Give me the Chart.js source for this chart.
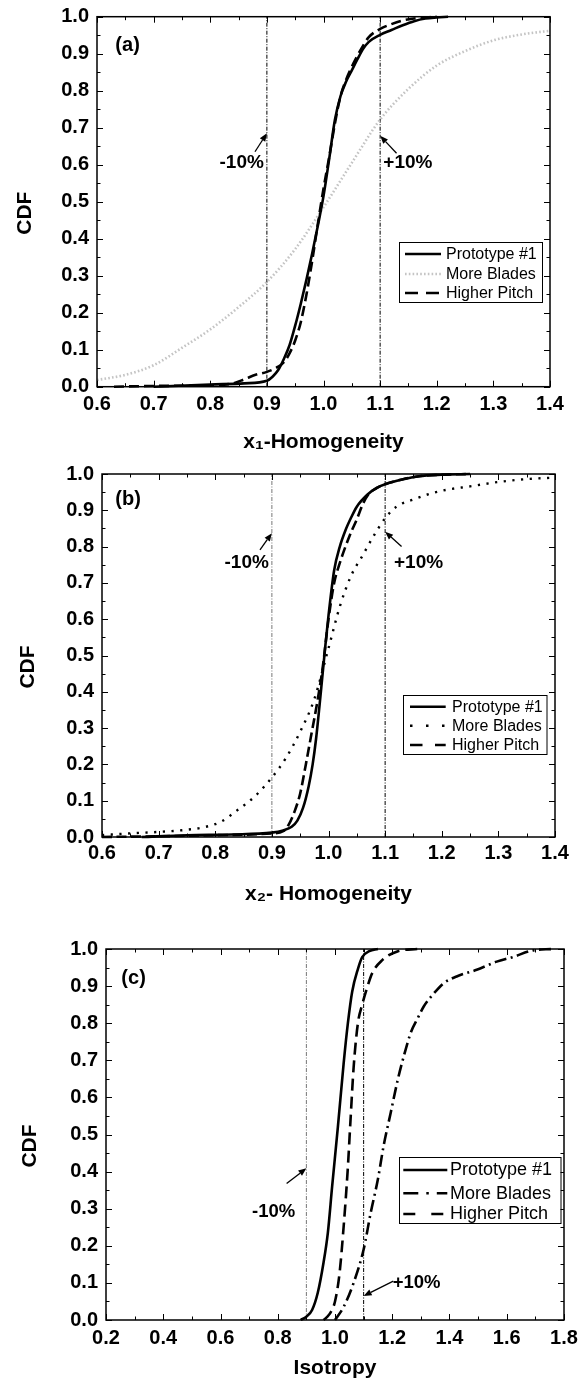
<!DOCTYPE html>
<html><head><meta charset="utf-8">
<script src="https://cdn.jsdelivr.net/npm/chart.js@4.4.1/dist/chart.umd.min.js"></script>
<style>
html,body{margin:0;padding:0;background:#fff;}
#wrap{position:relative;width:579px;height:1389px;overflow:hidden;}
.p{position:absolute;left:0;width:579px;}
canvas{display:block;}
</style></head><body>
<div id="wrap">
<div class="p" style="top:0;height:462px"><canvas id="ca" width="579" height="462"></canvas></div>
<div class="p" style="top:462px;height:462px"><canvas id="cb" width="579" height="462"></canvas></div>
<div class="p" style="top:924px;height:465px"><canvas id="cc" width="579" height="465"></canvas></div>
</div>
<script>
const FONT = '"Liberation Sans", Arial, Helvetica, sans-serif';

// ---------- ticks / labels ----------
const xTicksAB = [0.6, 0.7, 0.8, 0.9, 1.0, 1.1, 1.2, 1.3, 1.4];
const xTicksC  = [0.2, 0.4, 0.6, 0.8, 1.0, 1.2, 1.4, 1.6, 1.8];
const yTicks   = [0, 0.1, 0.2, 0.3, 0.4, 0.5, 0.6, 0.7, 0.8, 0.9, 1.0];
const refLinesX = [0.9, 1.1];
const seriesNames = ['Prototype #1', 'More Blades', 'Higher Pitch'];
const xTitles = ['x\u2081-Homogeneity', 'x\u2082- Homogeneity', 'Isotropy'];
const yTitle = 'CDF';

// ---------- panel (a) ----------
const aProtoX = [0.70, 0.80, 0.86, 0.90, 0.91, 0.92, 0.93, 0.94, 0.95, 0.96, 0.97, 0.98, 0.99, 1.00, 1.01, 1.02, 1.03, 1.04, 1.05, 1.06, 1.07, 1.08, 1.10, 1.12, 1.14, 1.16, 1.18, 1.20, 1.22];
const aProtoY = [0.0, 0.006, 0.009, 0.016, 0.027, 0.045, 0.075, 0.112, 0.165, 0.225, 0.29, 0.36, 0.435, 0.515, 0.615, 0.72, 0.785, 0.825, 0.855, 0.885, 0.913, 0.932, 0.951, 0.964, 0.977, 0.988, 0.995, 0.998, 1.0];
const aBladesX = [0.60, 0.65, 0.70, 0.75, 0.80, 0.85, 0.90, 0.95, 1.00, 1.05, 1.10, 1.15, 1.20, 1.25, 1.30, 1.35, 1.40];
const aBladesY = [0.018, 0.032, 0.058, 0.105, 0.155, 0.215, 0.283, 0.372, 0.485, 0.605, 0.722, 0.805, 0.868, 0.907, 0.936, 0.952, 0.962];
const aPitchX = [0.63, 0.70, 0.80, 0.84, 0.86, 0.88, 0.90, 0.92, 0.93, 0.94, 0.95, 0.96, 0.97, 0.98, 0.99, 1.00, 1.01, 1.02, 1.03, 1.04, 1.05, 1.06, 1.07, 1.08, 1.10, 1.12, 1.14, 1.16, 1.20];
const aPitchY = [0.0, 0.002, 0.004, 0.009, 0.02, 0.032, 0.04, 0.054, 0.066, 0.09, 0.125, 0.175, 0.25, 0.34, 0.44, 0.535, 0.62, 0.71, 0.785, 0.83, 0.865, 0.895, 0.922, 0.945, 0.967, 0.98, 0.99, 0.995, 1.0];
const aNotes = [
  {text: '(a)', x: 0.654, y: 0.923, size: 20},
  {text: '-10%', x: 0.8555, y: 0.604, size: 19},
  {text: '+10%', x: 1.149, y: 0.604, size: 19}
];
const aArrows = [
  {x1: 0.879, y1: 0.635, x2: 0.9, y2: 0.685},
  {x1: 1.129, y1: 0.631, x2: 1.1, y2: 0.678}
];

// ---------- panel (b) ----------
const bProtoX = [0.67, 0.75, 0.83, 0.90, 0.92, 0.935, 0.945, 0.955, 0.965, 0.972, 0.978, 0.984, 0.989, 0.994, 1.00, 1.01, 1.02, 1.03, 1.04, 1.05, 1.07, 1.085, 1.10, 1.13, 1.16, 1.20, 1.25];
const bProtoY = [0.0, 0.005, 0.007, 0.012, 0.018, 0.028, 0.045, 0.08, 0.14, 0.20, 0.27, 0.36, 0.44, 0.52, 0.61, 0.735, 0.80, 0.845, 0.88, 0.91, 0.945, 0.962, 0.972, 0.985, 0.994, 0.998, 1.0];
const bBladesX = [0.60, 0.65, 0.70, 0.75, 0.78, 0.81, 0.84, 0.87, 0.90, 0.925, 0.95, 0.975, 1.00, 1.02, 1.04, 1.06, 1.08, 1.10, 1.12, 1.15, 1.18, 1.21, 1.25, 1.30, 1.35, 1.40];
const bBladesY = [0.005, 0.01, 0.014, 0.02, 0.027, 0.042, 0.075, 0.112, 0.164, 0.218, 0.29, 0.38, 0.52, 0.635, 0.72, 0.775, 0.83, 0.878, 0.91, 0.93, 0.946, 0.957, 0.966, 0.978, 0.986, 0.99];
const bPitchX = [0.60, 0.70, 0.80, 0.90, 0.92, 0.93, 0.94, 0.95, 0.96, 0.97, 0.98, 0.99, 1.00, 1.01, 1.02, 1.03, 1.04, 1.05, 1.06, 1.07, 1.085, 1.10, 1.13, 1.16, 1.20, 1.25];
const bPitchY = [0.0, 0.002, 0.005, 0.01, 0.016, 0.035, 0.07, 0.12, 0.2, 0.285, 0.37, 0.47, 0.60, 0.70, 0.755, 0.80, 0.84, 0.875, 0.915, 0.943, 0.961, 0.972, 0.985, 0.994, 0.998, 1.0];
const bNotes = [
  {text: '(b)', x: 0.646, y: 0.931, size: 20},
  {text: '-10%', x: 0.8555, y: 0.755, size: 19},
  {text: '+10%', x: 1.159, y: 0.755, size: 19}
];
const bArrows = [
  {x1: 0.879, y1: 0.791, x2: 0.9, y2: 0.837},
  {x1: 1.129, y1: 0.80, x2: 1.1, y2: 0.841}
];

// ---------- panel (c) ----------
const cProtoX = [0.88, 0.90, 0.92, 0.94, 0.96, 0.975, 0.99, 1.01, 1.03, 1.045, 1.06, 1.08, 1.095, 1.12, 1.15];
const cProtoY = [0.0, 0.009, 0.027, 0.074, 0.155, 0.235, 0.36, 0.52, 0.69, 0.80, 0.885, 0.946, 0.978, 0.994, 1.0];
const cBladesX = [1.00, 1.03, 1.065, 1.10, 1.125, 1.15, 1.17, 1.195, 1.22, 1.24, 1.265, 1.29, 1.31, 1.345, 1.38, 1.425, 1.495, 1.565, 1.62, 1.69, 1.76];
const cBladesY = [0.0, 0.035, 0.10, 0.19, 0.29, 0.38, 0.47, 0.56, 0.65, 0.71, 0.775, 0.815, 0.845, 0.88, 0.908, 0.926, 0.944, 0.966, 0.978, 0.996, 1.0];
const cPitchX = [0.96, 0.98, 1.00, 1.016, 1.03, 1.044, 1.055, 1.065, 1.08, 1.095, 1.11, 1.13, 1.165, 1.22, 1.29];
const cPitchY = [0.0, 0.015, 0.05, 0.127, 0.25, 0.40, 0.55, 0.68, 0.80, 0.85, 0.89, 0.935, 0.97, 0.994, 1.0];
const cNotes = [
  {text: '(c)', x: 0.2964, y: 0.921, size: 20},
  {text: '-10%', x: 0.7855, y: 0.292, size: 18.5},
  {text: '+10%', x: 1.285, y: 0.0997, size: 18.5}
];
const cArrows = [
  {x1: 0.831, y1: 0.368, x2: 0.9, y2: 0.409},
  {x1: 1.2037, y1: 0.105, x2: 1.1, y2: 0.0647}
];

// ---------- helpers ----------
function series(label, xs, ys, style) {
  return Object.assign({
    label: label,
    data: xs.map((x, i) => ({x: x, y: ys[i]})),
    showLine: true, pointRadius: 0, pointHoverRadius: 0, fill: false, clip: false,
    borderColor: '#000', borderWidth: 2.6, borderCapStyle: 'butt', borderJoinStyle: 'round',
    cubicInterpolationMode: 'monotone'
  }, style);
}
function refLine(xv, color) {
  return {
    label: 'ref', isRef: true, clip: false,
    data: [{x: xv, y: yTicks[0]}, {x: xv, y: yTicks[yTicks.length - 1]}],
    showLine: true, pointRadius: 0, fill: false, tension: 0,
    borderColor: color, borderWidth: 1, borderDash: [4, 1.5, 1, 1.5]
  };
}

const deco = {
  id: 'deco',
  afterLayout(chart, args, o) {
    const y = chart.scales.y;
    if (o.yTitleShift) { y.top += o.yTitleShift; y.bottom += o.yTitleShift; }
  },
  afterDatasetsDraw(chart, args, o) {
    const ctx = chart.ctx, a = chart.chartArea, xs = chart.scales.x, ys = chart.scales.y;
    ctx.save();
    ctx.setLineDash([]);
    ctx.strokeStyle = '#000';
    ctx.lineWidth = 1;
    const majL = 6, minL = 3.5;
    function xTick(v, len) {
      const px = Math.round(xs.getPixelForValue(v)) + 0.5;
      ctx.beginPath();
      ctx.moveTo(px, a.bottom); ctx.lineTo(px, a.bottom - len);
      ctx.moveTo(px, a.top); ctx.lineTo(px, a.top + len);
      ctx.stroke();
    }
    function yTick(v, len) {
      const py = Math.round(ys.getPixelForValue(v)) + 0.5;
      ctx.beginPath();
      ctx.moveTo(a.left, py); ctx.lineTo(a.left + len, py);
      ctx.moveTo(a.right, py); ctx.lineTo(a.right - len, py);
      ctx.stroke();
    }
    const xt = o.xTicks;
    xt.forEach((v, i) => { xTick(v, majL); if (i < xt.length - 1) xTick((v + xt[i + 1]) / 2, minL); });
    yTicks.forEach((v, i) => { yTick(v, majL); if (i < yTicks.length - 1) yTick((v + yTicks[i + 1]) / 2, minL); });
    // frame
    ctx.lineWidth = 1.5;
    ctx.strokeRect(a.left, a.top, a.right - a.left, a.bottom - a.top);

    // legend
    const L = o.legend;
    const lx = a.left + L.left, ly = a.top + L.top;
    ctx.lineWidth = 1;
    ctx.fillStyle = '#fff';
    ctx.fillRect(lx, ly, L.width, L.height);
    ctx.strokeStyle = '#000';
    ctx.strokeRect(Math.round(lx) + 0.5, Math.round(ly) + 0.5, L.width, L.height);
    const sers = chart.data.datasets.filter(d => !d.isRef);
    sers.forEach((d, i) => {
      const yy = ly + L.rows[i];
      ctx.beginPath();
      ctx.setLineDash(d.legendDash || d.borderDash || []);
      ctx.strokeStyle = d.borderColor;
      ctx.lineWidth = d.borderWidth;
      ctx.lineCap = 'butt';
      ctx.moveTo(lx + L.sx1, yy); ctx.lineTo(lx + L.sx2, yy);
      ctx.stroke();
      ctx.setLineDash([]);
      ctx.fillStyle = '#000';
      ctx.font = L.size + 'px ' + FONT;
      ctx.textAlign = 'left';
      ctx.textBaseline = 'middle';
      ctx.fillText(d.label, lx + L.tx, yy + 0.5);
    });

    // annotations
    ctx.fillStyle = '#000';
    ctx.textAlign = 'center';
    ctx.textBaseline = 'middle';
    o.notes.forEach(n => {
      ctx.font = 'bold ' + n.size + 'px ' + FONT;
      ctx.fillText(n.text, xs.getPixelForValue(n.x), ys.getPixelForValue(n.y));
    });
    ctx.strokeStyle = '#000';
    ctx.lineWidth = 1.3;
    o.arrows.forEach(ar => {
      const x1 = xs.getPixelForValue(ar.x1), y1 = ys.getPixelForValue(ar.y1);
      const x2 = xs.getPixelForValue(ar.x2), y2 = ys.getPixelForValue(ar.y2);
      const ang = Math.atan2(y2 - y1, x2 - x1);
      const hl = 8, hw = 3.2;
      const bx = x2 - hl * Math.cos(ang), by = y2 - hl * Math.sin(ang);
      ctx.beginPath(); ctx.moveTo(x1, y1); ctx.lineTo(bx, by); ctx.stroke();
      ctx.beginPath();
      ctx.moveTo(x2, y2);
      ctx.lineTo(bx + hw * Math.sin(ang), by - hw * Math.cos(ang));
      ctx.lineTo(bx - hw * Math.sin(ang), by + hw * Math.cos(ang));
      ctx.closePath(); ctx.fill();
    });
    ctx.restore();
  }
};

function makeChart(P) {
  const tickFont = {family: FONT, size: 20, weight: 'bold'};
  const titleFont = {family: FONT, size: 21, weight: 'bold'};
  return new Chart(document.getElementById(P.id), {
    type: 'scatter',
    data: {datasets: P.datasets},
    options: {
      responsive: false, animation: false, events: [],
      layout: {padding: {left: 0, top: P.top, right: 579 - P.right, bottom: 0}},
      plugins: {
        legend: {display: false}, tooltip: {enabled: false},
        deco: {xTicks: P.xTicks, legend: P.legend, notes: P.notes, arrows: P.arrows, yTitleShift: 11.5}
      },
      scales: {
        x: {
          type: 'linear', position: 'bottom',
          min: P.xTicks[0], max: P.xTicks[P.xTicks.length - 1],
          afterBuildTicks: s => { s.ticks = P.xTicks.map(v => ({value: v})); },
          ticks: {font: tickFont, color: '#000', padding: P.xTickPad, autoSkip: false, maxRotation: 0,
                  callback: v => Number(v).toFixed(1)},
          grid: {display: false, drawTicks: false}, border: {display: false},
          title: {display: true, text: P.xTitle, font: titleFont, color: '#000', padding: {top: 0, bottom: P.xTitlePad}},
          afterFit: s => { s.height = P.H - P.bottom; s.paddingLeft = 0; s.paddingRight = 0; }
        },
        y: {
          type: 'linear', position: 'left',
          min: yTicks[0], max: yTicks[yTicks.length - 1],
          afterBuildTicks: s => { s.ticks = yTicks.map(v => ({value: v})); },
          ticks: {font: tickFont, color: '#000', padding: 8, autoSkip: false,
                  callback: v => Number(v).toFixed(1)},
          grid: {display: false, drawTicks: false}, border: {display: false},
          title: {display: true, text: yTitle, font: titleFont, color: '#000', padding: {top: P.yTitlePad, bottom: 0}},
          afterFit: s => { s.width = P.left; s.paddingTop = 0; s.paddingBottom = 0; }
        }
      }
    },
    plugins: [deco]
  });
}

makeChart({
  id: 'ca', H: 462, left: 97, right: 550, top: 16.7, bottom: 386.7,
  xTicks: xTicksAB, xTitle: xTitles[0], xTitlePad: 7.5, xTickPad: 6, yTitlePad: 12.4,
  datasets: [
    series(seriesNames[0], aProtoX, aProtoY, {}),
    series(seriesNames[1], aBladesX, aBladesY, {borderColor: '#c4c4c4', borderWidth: 2.6, borderDash: [1.6, 2.2], legendDash: [1.6, 2.2]}),
    series(seriesNames[2], aPitchX, aPitchY, {borderDash: [10, 5], legendDash: [13, 8]}),
    refLine(refLinesX[0], '#000'), refLine(refLinesX[1], '#000')
  ],
  legend: {left: 302, top: 225.6, width: 143, height: 60, rows: [11.7, 31.7, 50.7], sx1: 6, sx2: 42, tx: 47, size: 16},
  notes: aNotes, arrows: aArrows
});

makeChart({
  id: 'cb', H: 462, left: 102, right: 555, top: 12, bottom: 375,
  xTicks: xTicksAB, xTitle: xTitles[1], xTitlePad: 17.5, xTickPad: 4, yTitlePad: 15.4,
  datasets: [
    series(seriesNames[0], bProtoX, bProtoY, {}),
    series(seriesNames[1], bBladesX, bBladesY, {borderWidth: 2.4, borderDash: [2.2, 6.5], legendDash: [2.5, 13.5]}),
    series(seriesNames[2], bPitchX, bPitchY, {borderDash: [10, 4.5], legendDash: [12.5, 12.5]}),
    refLine(refLinesX[0], '#777'), refLine(refLinesX[1], '#000')
  ],
  legend: {left: 301.3, top: 221, width: 143.5, height: 59, rows: [11.7, 30.7, 50], sx1: 6.7, sx2: 42.4, tx: 48.7, size: 16},
  notes: bNotes, arrows: bArrows
});

makeChart({
  id: 'cc', H: 465, left: 106, right: 564, top: 25, bottom: 396,
  xTicks: xTicksC, xTitle: xTitles[2], xTitlePad: 8.4, xTickPad: 6, yTitlePad: 17.4,
  datasets: [
    series(seriesNames[0], cProtoX, cProtoY, {}),
    series(seriesNames[1], cBladesX, cBladesY, {borderDash: [12, 4.5, 2, 4.5], legendDash: [15, 8, 2.5, 8]}),
    series(seriesNames[2], cPitchX, cPitchY, {borderDash: [12, 6], legendDash: [12, 16]}),
    refLine(refLinesX[0], '#777'), refLine(refLinesX[1], '#000')
  ],
  legend: {left: 293, top: 208.3, width: 161.5, height: 66, rows: [12.7, 36, 56.7], sx1: 4.3, sx2: 48.3, tx: 51, size: 18},
  notes: cNotes, arrows: cArrows
});
</script>
</body></html>
